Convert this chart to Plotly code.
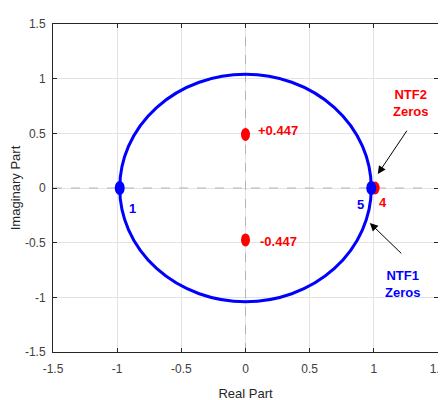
import plotly.graph_objects as go

# ---- data ----
axis_ticks = [-1.5, -1, -0.5, 0, 0.5, 1, 1.5]
tick_labels = ["-1.5", "-1", "-0.5", "0", "0.5", "1", "1.5"]

# unit circle (as drawn, slightly elliptical in the picture)
circle_rx = 0.98
circle_ry = 1.04

# NTF2 zeros (red)
ntf2_re = [0.0, 0.0, 1.01]
ntf2_im = [0.49, -0.475, 0.0]
# NTF1 zeros (blue)
ntf1_re = [-0.98, 0.98]
ntf1_im = [0.0, 0.0]

# point labels
pt_labels = ["+0.447", "-0.447", "1", "5", "4"]
pt_label_x = [0.08, 0.096, -0.92, 0.896, 1.07]
pt_label_y = [0.53, -0.485, -0.183, -0.155, -0.137]
pt_label_color = ["red", "red", "#0000FF", "#0000FF", "red"]
pt_label_anchor = ["left", "left", "left", "center", "center"]

# callouts
callout_text = ["NTF2<br>Zeros", "NTF1<br>Zeros"]
callout_x = [1.286, 1.226]
callout_y = [0.78, -0.882]
callout_color = ["red", "#0000FF"]
arrow_tip_x = [1.031, 0.969]
arrow_tip_y = [0.128, -0.32]
arrow_tail_x = [1.265, 1.226]
arrow_tail_y = [0.537, -0.612]

BLUE = "#0000FF"
RED = "#FF0000"
FONT = "Liberation Sans, Arial, sans-serif"

fig = go.Figure()
# invisible trace to anchor axes
fig.add_trace(go.Scatter(x=ntf1_re, y=ntf1_im, mode="markers",
                         marker=dict(size=1, opacity=0), hoverinfo="skip",
                         showlegend=False))

shapes = []
# dashed axes through origin
shapes.append(dict(type="line", xref="x", yref="y", x0=-1.5, x1=1.4, y0=0, y1=0,
                   line=dict(color="#b4b4b4", width=1, dash="dash"), layer="between"))
shapes.append(dict(type="line", xref="x", yref="y", x0=0, x1=0, y0=-1.5, y1=1.5,
                   line=dict(color="#b4b4b4", width=1, dash="dash"), layer="between"))
# circle
shapes.append(dict(type="circle", xref="x", yref="y",
                   x0=-circle_rx, x1=circle_rx, y0=-circle_ry, y1=circle_ry,
                   line=dict(color=BLUE, width=3)))
# red zeros
for xv, yv in zip(ntf2_re, ntf2_im):
    shapes.append(dict(type="circle", xref="x", yref="y",
                       xsizemode="pixel", ysizemode="pixel",
                       xanchor=xv, yanchor=yv, x0=-4.5, x1=4.5, y0=-6.5, y1=6.5,
                       fillcolor=RED, line=dict(width=0)))
# blue zeros
for xv, yv in zip(ntf1_re, ntf1_im):
    shapes.append(dict(type="circle", xref="x", yref="y",
                       xsizemode="pixel", ysizemode="pixel",
                       xanchor=xv, yanchor=yv, x0=-5, x1=5, y0=-7, y1=7,
                       fillcolor=BLUE, line=dict(width=0)))

annotations = []
for t, xv, yv, c, a in zip(pt_labels, pt_label_x, pt_label_y, pt_label_color, pt_label_anchor):
    annotations.append(dict(x=xv, y=yv, xref="x", yref="y", text="<b>%s</b>" % t,
                            showarrow=False, xanchor=a, yanchor="middle",
                            font=dict(family=FONT, size=13, color=c)))
for t, xv, yv, c in zip(callout_text, callout_x, callout_y, callout_color):
    annotations.append(dict(x=xv, y=yv, xref="x", yref="y", text="<b>%s</b>" % t,
                            showarrow=False, xanchor="center", yanchor="middle",
                            font=dict(family=FONT, size=13, color=c)))
for tx, ty, sx, sy in zip(arrow_tip_x, arrow_tip_y, arrow_tail_x, arrow_tail_y):
    annotations.append(dict(x=tx, y=ty, ax=sx, ay=sy, xref="x", yref="y",
                            axref="x", ayref="y", text="", showarrow=True,
                            arrowhead=2, arrowsize=1.6, arrowwidth=1,
                            arrowcolor="black"))

axis_common = dict(range=[-1.5, 1.5], tickvals=axis_ticks, ticktext=tick_labels,
                   showgrid=True, gridcolor="#e3e3e3", gridwidth=1,
                   zeroline=False, showline=True, linecolor="#262626", linewidth=1,
                   mirror="ticks", ticks="inside", ticklen=4, tickcolor="#262626",
                   automargin=False,
                   tickfont=dict(family=FONT, size=12, color="#404040"))

# the page body has an 8px default margin, so the figure is offset by 8px
fig.update_layout(
    width=446, height=400,
    margin=dict(l=45, r=16, t=16, b=56, autoexpand=False),
    paper_bgcolor="white", plot_bgcolor="white",
    showlegend=False,
    shapes=shapes, annotations=annotations,
    xaxis=dict(**axis_common, ticklabelstandoff=6,
               title=dict(text="Real Part", standoff=13,
                          font=dict(family=FONT, size=13, color="#262626"))),
    yaxis=dict(**axis_common, ticklabelstandoff=4,
               title=dict(text="Imaginary Part", standoff=6,
                          font=dict(family=FONT, size=13, color="#262626"))),
)

fig.write_html("out.html")
